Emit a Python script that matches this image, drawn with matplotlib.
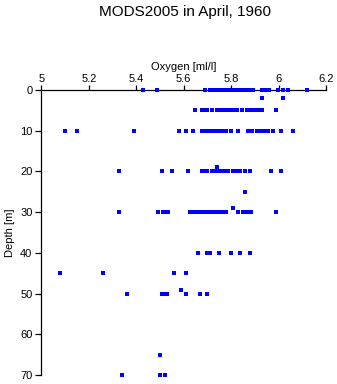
import numpy as np
import matplotlib
matplotlib.use("Agg")
import matplotlib.pyplot as plt

plt.rcParams['font.family'] = ['Liberation Sans', 'DejaVu Sans']

# oxygen readings [ml/l] per sampled depth [m]
oxy_0 = [5.43, 5.489, 5.69, 5.711, 5.724, 5.732, 5.745, 5.753, 5.762, 5.770, 5.778,
         5.787, 5.795, 5.804, 5.82, 5.833, 5.85, 5.863, 5.88, 5.892, 5.93, 5.943,
         5.958, 5.998, 6.02, 6.04, 6.12]
oxy_2 = [5.932, 6.02]
oxy_5 = [5.648, 5.676, 5.69, 5.70, 5.718, 5.739, 5.753, 5.768, 5.781, 5.798, 5.812,
         5.826, 5.847, 5.866, 5.877, 5.888, 5.901, 5.915, 5.929, 5.989]
oxy_10 = [5.10, 5.151, 5.392, 5.58, 5.611, 5.64, 5.676, 5.692, 5.708, 5.725, 5.736,
          5.746, 5.76, 5.78, 5.80, 5.83, 5.87, 5.889, 5.908, 5.925, 5.94, 5.957,
          5.976, 6.012, 6.06]
oxy_19 = [5.742]
oxy_20 = [5.328, 5.51, 5.552, 5.619, 5.676, 5.686, 5.697, 5.718, 5.730, 5.743, 5.755,
          5.766, 5.774, 5.788, 5.807, 5.819, 5.829, 5.838, 5.859, 5.880, 5.968, 6.011]
oxy_25 = [5.86]
oxy_29 = [5.809]
oxy_30 = [5.328, 5.49, 5.514, 5.523, 5.534, 5.627, 5.645, 5.653, 5.662, 5.676, 5.686,
          5.695, 5.707, 5.719, 5.732, 5.745, 5.755, 5.765, 5.778, 5.83, 5.851, 5.866,
          5.875, 5.884, 5.991]
oxy_40 = [5.662, 5.697, 5.711, 5.750, 5.801, 5.838, 5.881]
oxy_45 = [5.079, 5.261, 5.560, 5.611]
oxy_49 = [5.59]
oxy_50 = [5.362, 5.507, 5.517, 5.528, 5.611, 5.67, 5.70]
oxy_65 = [5.501]
oxy_70 = [5.341, 5.501, 5.52]

depths = [0, 2, 5, 10, 19, 20, 25, 29, 30, 40, 45, 49, 50, 65, 70]
readings = [oxy_0, oxy_2, oxy_5, oxy_10, oxy_19, oxy_20, oxy_25, oxy_29, oxy_30,
            oxy_40, oxy_45, oxy_49, oxy_50, oxy_65, oxy_70]

oxygen = np.concatenate(readings)
depth = np.concatenate([[d] * len(r) for d, r in zip(depths, readings)])

fig = plt.figure(figsize=(3.37, 3.84), dpi=100)
ax = fig.add_axes([0.1231, 0.0234, 0.8442, 0.7422])

# markers sit on top of the axis line at the surface, as in the original
ax.plot(oxygen, depth, linestyle='none', marker='s', markersize=2.2,
        color='#0000ff', markeredgewidth=0, clip_on=False, zorder=5)

ax.set_xlim(5, 6.2)
ax.set_ylim(70, 0)
ax.set_xticks(np.arange(5, 6.21, 0.2))
ax.set_xticklabels(['5', '5.2', '5.4', '5.6', '5.8', '6', '6.2'])
ax.set_yticks(np.arange(0, 71, 10))

ax.xaxis.tick_top()
ax.xaxis.set_label_position('top')
ax.spines['right'].set_visible(False)
ax.spines['bottom'].set_visible(False)
for s in ('top', 'left'):
    ax.spines[s].set_linewidth(0.9)

ax.tick_params(axis='x', direction='out', length=3.5, width=0.9, pad=1, labelsize=8)
ax.tick_params(axis='y', direction='out', length=4.5, width=0.9, pad=2, labelsize=8)

ax.set_xlabel('Oxygen [ml/l]', fontsize=8, labelpad=3)
ax.set_ylabel('Depth [m]', fontsize=8, labelpad=4)

fig.text(0.548, 0.968, 'MODS2005 in April, 1960', ha='center', va='center', fontsize=11)

fig.savefig('out.png', dpi=100)
